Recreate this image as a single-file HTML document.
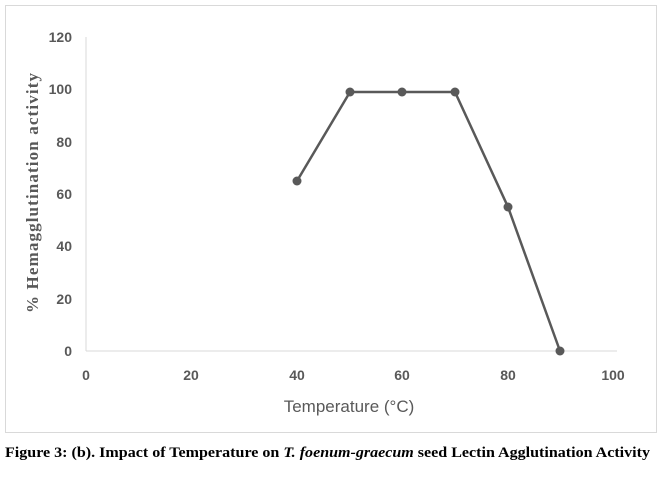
<!DOCTYPE html>
<html><head><style>
body{margin:0;background:#fff;width:663px;height:474px;overflow:hidden}
</style></head><body>
<svg width="663" height="474" xmlns="http://www.w3.org/2000/svg">
<rect x="5.5" y="5.5" width="651" height="427" fill="#fff" stroke="#d9d9d9" stroke-width="1"/>
<line x1="86" y1="351" x2="617" y2="351" stroke="#d9d9d9" stroke-width="1"/>
<line x1="86" y1="37" x2="86" y2="351" stroke="#d9d9d9" stroke-width="1"/>
<g font-family="Liberation Sans, sans-serif" font-size="14" font-weight="bold" fill="#595959" text-anchor="end">
<text x="72" y="356">0</text><text x="72" y="304">20</text><text x="72" y="251">40</text>
<text x="72" y="199">60</text><text x="72" y="147">80</text><text x="72" y="94">100</text><text x="72" y="42">120</text>
</g>
<g font-family="Liberation Sans, sans-serif" font-size="14" font-weight="bold" fill="#595959" text-anchor="middle">
<text x="86" y="380">0</text><text x="191" y="380">20</text><text x="297" y="380">40</text>
<text x="402" y="380">60</text><text x="508" y="380">80</text><text x="613" y="380">100</text>
<text x="349" y="412" font-size="17" font-weight="normal">Temperature (°C)</text>
</g>
<text transform="translate(38,193) rotate(-90)" font-family="Liberation Serif, serif" font-weight="bold" font-size="17" fill="#595959" text-anchor="middle" textLength="240" lengthAdjust="spacing">% Hemagglutination  activity</text>
<polyline points="297,181 350,92 402,92 455,92 508,207 560,351" fill="none" stroke="#595959" stroke-width="2.5"/>
<g fill="#595959">
<circle cx="297" cy="181" r="4.5"/><circle cx="350" cy="92" r="4.5"/><circle cx="402" cy="92" r="4.5"/>
<circle cx="455" cy="92" r="4.5"/><circle cx="508" cy="207" r="4.5"/><circle cx="560" cy="351" r="4.5"/>
</g>
<text x="5" y="457" font-family="Liberation Serif, serif" font-weight="bold" font-size="15" fill="#000" textLength="645" lengthAdjust="spacingAndGlyphs">Figure 3: (b). Impact of Temperature on <tspan font-style="italic">T. foenum-graecum</tspan> seed Lectin Agglutination Activity</text>
</svg>
</body></html>
